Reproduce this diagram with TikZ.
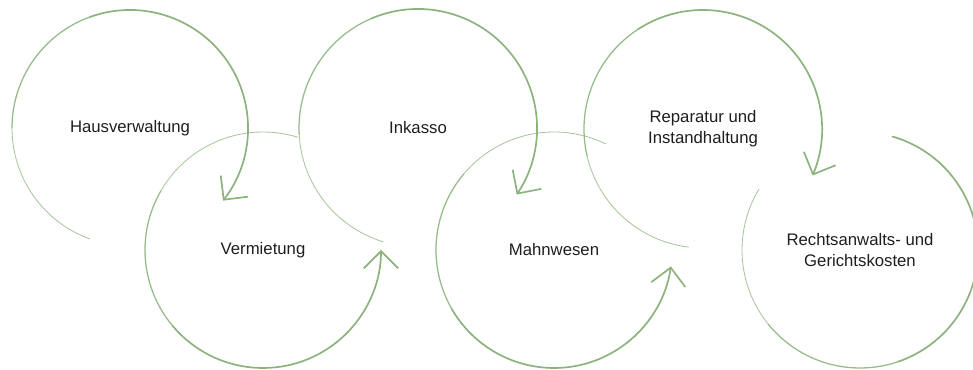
\documentclass[tikz,border=0pt]{standalone}
\usepackage{fontspec}
\setmainfont{Liberation Sans}
\usetikzlibrary{arrows.meta}
\definecolor{CYGreen}{HTML}{8CB27E}
\definecolor{CYInk}{HTML}{1E1E1E}
\tikzset{
  ring/.style={CYGreen,line width=1.2pt,line cap=round},
  ringfaint/.style={ring,line width=0.6pt,opacity=0.75},
  ringmid/.style={ring,line width=0.9pt,opacity=0.9},
  turn/.style={ring,-{Straight Barb[length=4.3mm,width=8.6mm]}},
  label/.style={text=CYInk,font=\fontsize{11.9}{14.9}\selectfont,align=center},
}
\begin{document}
\begin{tikzpicture}[x=2.5cm,y=2.5cm]
    \useasboundingbox (0,0) rectangle (9.73,3.70);

    \node[label] (hv)    at (1.30,2.42) {Hausverwaltung};
    \node[label] (verm)  at (2.63,1.20) {Vermietung};
    \node[label] (ink)   at (4.18,2.42) {Inkasso};
    \node[label] (mahn)  at (5.54,1.20) {Mahnwesen};
    \node[label] (rep)   at (7.03,2.41) {Reparatur und\\Instandhaltung};
    \node[label] (recht) at (8.60,1.20) {Rechtsanwalts- und\\Gerichtskosten};

    % Hausverwaltung -> Vermietung
    \draw[ringfaint] ([shift={(250:1.18)}]hv.center) arc[start angle=250,end angle=180,radius=1.18];
    \draw[ringmid] ([shift={(180:1.18)}]hv.center) arc[start angle=180,end angle=110,radius=1.18];
    \draw[turn] ([shift={(110:1.18)}]hv.center) arc[start angle=110,end angle=-38,radius=1.18];

    % Vermietung -> Inkasso
    \draw[ringfaint] ([shift={(73:1.18)}]verm.center) arc[start angle=73,end angle=150,radius=1.18];
    \draw[ringmid] ([shift={(150:1.18)}]verm.center) arc[start angle=150,end angle=220,radius=1.18];
    \draw[turn] ([shift={(220:1.18)}]verm.center) arc[start angle=220,end angle=360,radius=1.18];

    % Inkasso -> Mahnwesen
    \draw[ringfaint] ([shift={(253:1.19)}]ink.center) arc[start angle=253,end angle=183,radius=1.19];
    \draw[ringmid] ([shift={(183:1.19)}]ink.center) arc[start angle=183,end angle=113,radius=1.19];
    \draw[turn] ([shift={(113:1.19)}]ink.center) arc[start angle=113,end angle=-34,radius=1.19];

    % Mahnwesen -> Reparatur
    \draw[ringfaint] ([shift={(64:1.18)}]mahn.center) arc[start angle=64,end angle=140,radius=1.18];
    \draw[ringmid] ([shift={(140:1.18)}]mahn.center) arc[start angle=140,end angle=210,radius=1.18];
    \draw[turn] ([shift={(210:1.18)}]mahn.center) arc[start angle=210,end angle=352,radius=1.18];

    % Reparatur -> Rechtsanwalts
    \draw[ringfaint] ([shift={(263:1.19)}]rep.center) arc[start angle=263,end angle=193,radius=1.19];
    \draw[ringmid] ([shift={(193:1.19)}]rep.center) arc[start angle=193,end angle=123,radius=1.19];
    \draw[turn] ([shift={(123:1.19)}]rep.center) arc[start angle=123,end angle=-23,radius=1.19];

    % Rechtsanwalts- und Gerichtskosten
    \draw[ringfaint] ([shift={(149:1.18)}]recht.center) arc[start angle=149,end angle=219,radius=1.18];
    \draw[ringmid] ([shift={(219:1.18)}]recht.center) arc[start angle=219,end angle=289,radius=1.18];
    \draw[ring] ([shift={(289:1.18)}]recht.center) arc[start angle=289,end angle=434,radius=1.18];
  \end{tikzpicture}
\end{document}
